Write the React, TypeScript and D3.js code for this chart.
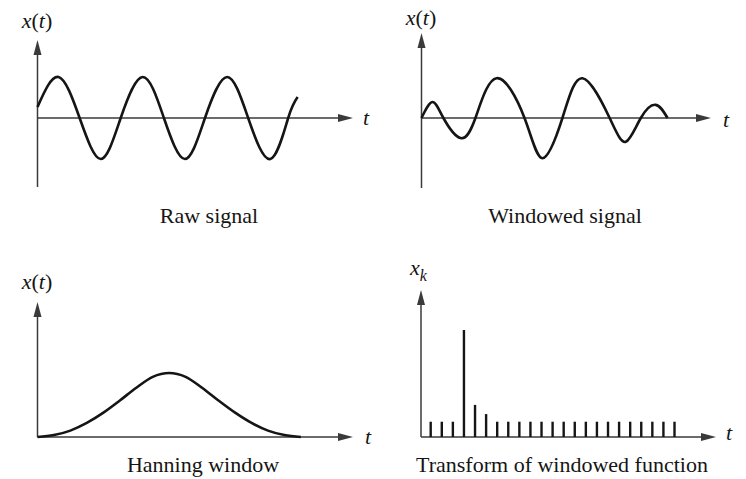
import React from "react";
import * as d3 from "d3";

// raw signal, time in quarter-period units, amplitude in peak units
const rawT = [0, 1, 2, 3, 3.95, 5, 6, 7, 7.95, 9, 10, 11.05, 11.9, 12.35];
const rawX = [0.27, 1, 0, -1, 0, 1, 0, -1, 0, 1, 0, -1, 0, 0.51];

// windowed signal (raw * hanning)
const winT = [0, 0.52, 1.04, 1.85, 2.56, 3.56, 4.89, 5.74, 6.69, 7.64, 8.93, 9.7, 10.41, 11.12, 11.68];
const winX = [0, 0.39, 0, -0.49, 0, 0.97, 0, -0.98, 0, 0.97, 0, -0.58, 0, 0.32, 0];

// hanning window
const hanT = [0, 0.78, 1.56, 2.34, 3.13, 3.91, 4.69, 5.47, 6.25, 7.03, 7.81, 8.59, 9.38, 10.16, 10.94, 11.72, 12.5];
const hanX = [0, 0.03, 0.1, 0.22, 0.38, 0.57, 0.77, 0.94, 1, 0.94, 0.77, 0.57, 0.38, 0.22, 0.1, 0.03, 0];

// transform magnitudes |X_k|
const specK = d3.range(23);
const specX = [1, 1, 1, 7, 2.1, 1.5, 1, 1, 1, 1, 1, 1, 1, 1, 1, 1, 1, 1, 1, 1, 1, 1, 1];

const titles = ["Raw signal", "Windowed signal", "Hanning window", "Transform of windowed function"];

const FONT = "'Liberation Serif', 'Times New Roman', serif";
const AXIS = "#3a3a3a";
const INK = "#151515";

interface AxesProps {
  ox: number;
  oy: number;
  xTip: number;
  yTip: number;
  yBottom: number;
}

const Axes: React.FC<AxesProps> = ({ ox, oy, xTip, yTip, yBottom }) => (
  <g stroke={AXIS} fill={AXIS}>
    <line x1={ox} y1={yBottom} x2={ox} y2={yTip + 10} strokeWidth={1.5} />
    <line x1={ox} y1={oy} x2={xTip - 10} y2={oy} strokeWidth={1.5} />
    <polygon points={`${ox},${yTip} ${ox - 4},${yTip + 15} ${ox + 4},${yTip + 15}`} stroke="none" />
    <polygon points={`${xTip},${oy} ${xTip - 15},${oy - 4} ${xTip - 15},${oy + 4}`} stroke="none" />
  </g>
);

const XtLabel: React.FC<{ x: number; y: number }> = ({ x, y }) => (
  <text x={x} y={y} textAnchor="middle" fontFamily={FONT} fontSize={22} fill={INK}>
    <tspan fontStyle="italic">x</tspan>(<tspan fontStyle="italic">t</tspan>)
  </text>
);

const TLabel: React.FC<{ x: number; y: number }> = ({ x, y }) => (
  <text x={x} y={y} fontFamily={FONT} fontSize={22} fontStyle="italic" fill={INK}>
    t
  </text>
);

const Title: React.FC<{ x: number; y: number; text: string }> = ({ x, y, text }) => (
  <text x={x} y={y} textAnchor="middle" fontFamily={FONT} fontSize={22} fill={INK}>
    {text}
  </text>
);

const App: React.FC = () => {
  // top-left: raw signal
  const t1 = d3.scaleLinear().domain([0, 15]).range([37.5, 353.5]);
  const y1 = d3.scaleLinear().domain([-1, 1]).range([159, 77]);
  const raw = d3
    .line<number>()
    .x((_, i) => t1(rawT[i]))
    .y((d) => y1(d))
    .curve(d3.curveNatural)(rawX);

  // top-right: windowed signal
  const t2 = d3.scaleLinear().domain([0, 15]).range([421.5, 737.5]);
  const y2 = d3.scaleLinear().domain([-1, 1]).range([159, 77]);
  const win = d3
    .line<number>()
    .x((_, i) => t2(winT[i]))
    .y((d) => y2(d))
    .curve(d3.curveNatural)(winX);

  // bottom-left: hanning window
  const t3 = d3.scaleLinear().domain([0, 15]).range([37.5, 353.5]);
  const y3 = d3.scaleLinear().domain([0, 1]).range([437, 373]);
  const han = d3
    .line<number>()
    .x((_, i) => t3(hanT[i]))
    .y((d) => y3(d))
    .curve(d3.curveMonotoneX)(hanX);

  // bottom-right: spectrum
  const k4 = d3.scaleLinear().domain([0, 22]).range([430.7, 674.5]);
  const y4 = d3.scaleLinear().domain([0, 7]).range([437, 330]);

  return (
    <svg
      width={746}
      height={479}
      style={{ position: "absolute", left: 0, top: 0, background: "#fff" }}
    >
      {/* panel 1 */}
      <Axes ox={t1(0)} oy={y1(0)} xTip={353} yTip={40} yBottom={187} />
      <path d={raw ?? ""} fill="none" stroke={INK} strokeWidth={2.6} />
      <XtLabel x={37} y={28} />
      <TLabel x={363} y={125} />
      <Title x={209} y={223} text={titles[0]} />

      {/* panel 2 */}
      <Axes ox={t2(0)} oy={y2(0)} xTip={711} yTip={33} yBottom={188} />
      <path d={win ?? ""} fill="none" stroke={INK} strokeWidth={2.6} />
      <XtLabel x={421} y={25} />
      <TLabel x={723} y={127} />
      <Title x={565} y={223} text={titles[1]} />

      {/* panel 3 */}
      <Axes ox={t3(0)} oy={y3(0)} xTip={353} yTip={302} yBottom={437} />
      <path d={han ?? ""} fill="none" stroke={INK} strokeWidth={2.6} />
      <XtLabel x={37} y={289} />
      <TLabel x={365} y={444} />
      <Title x={203} y={472} text={titles[2]} />

      {/* panel 4 */}
      <Axes ox={421} oy={y4(0)} xTip={716} yTip={290} yBottom={437} />
      <g stroke={INK} strokeWidth={2.4}>
        {specK.map((k) => (
          <line key={k} x1={k4(k)} x2={k4(k)} y1={y4(0)} y2={y4(specX[k])} />
        ))}
      </g>
      <text x={410} y={275} fontFamily={FONT} fontSize={22} fill={INK}>
        <tspan fontStyle="italic">x</tspan>
        <tspan fontStyle="italic" fontSize={16} dy={6}>
          k
        </tspan>
      </text>
      <TLabel x={726} y={440} />
      <Title x={562} y={472} text={titles[3]} />
    </svg>
  );
};

export default App;
